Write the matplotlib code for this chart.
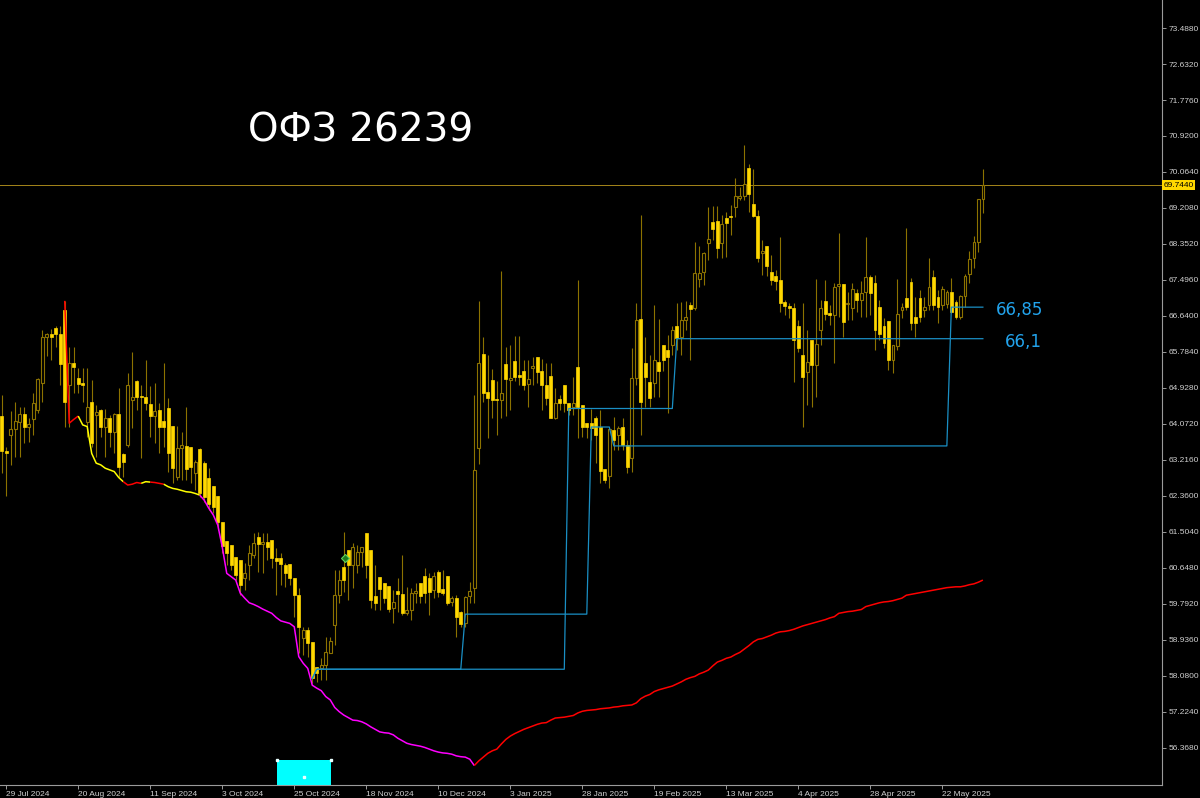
import numpy as np
import matplotlib.pyplot as plt
from matplotlib.patches import Rectangle
from matplotlib import transforms

# daily candles, bar 0 = first (partly hidden) candle on the left
opens = [
    64.25, 63.44, 63.81, 63.95, 64.13, 64.30, 64.01, 64.18, 64.40, 65.04,
    66.15, 66.21, 66.36, 66.20, 66.78, 65.00, 65.52, 65.16, 65.04, 64.13,
    64.60, 64.29, 64.40, 64.01, 64.21, 63.89, 64.30, 63.36, 63.57, 64.64,
    65.10, 64.74, 64.71, 64.55, 64.26, 64.40, 64.15, 64.45, 64.03, 62.80,
    63.49, 63.56, 63.53, 62.90, 63.47, 63.14, 62.79, 62.60, 62.36, 61.75,
    61.30, 61.19, 60.92, 60.84, 60.40, 60.72, 60.96, 61.39, 61.22, 61.27,
    61.31, 60.89, 60.88, 60.72, 60.74, 60.40, 60.00, 58.98, 59.17, 58.89,
    58.30, 58.27, 58.34, 58.63, 59.29, 60.00, 60.68, 61.07, 60.72, 60.72,
    61.03, 61.49, 61.07, 59.98, 60.43, 60.28, 60.22, 59.69, 60.11, 60.03,
    59.57, 59.65, 60.05, 60.28, 60.46, 60.40, 60.12, 60.56, 60.14, 60.46,
    59.85, 59.93, 59.61, 59.33, 59.99, 60.18, 63.49, 65.74, 64.83, 65.12,
    64.67, 64.64, 65.50, 65.12, 65.57, 65.23, 65.32, 65.02, 65.40, 65.66,
    65.32, 65.00, 65.21, 64.21, 64.67, 65.00, 64.56, 64.48, 65.43, 64.52,
    64.10, 64.10, 64.21, 63.99, 63.00, 62.83, 63.93, 63.81, 64.01, 63.57,
    63.26, 65.16, 66.58, 65.52, 65.08, 65.04, 65.55, 65.95, 65.83, 65.95,
    66.40, 66.15, 66.54, 66.90, 66.82, 67.51, 67.69, 68.38, 68.88, 68.91,
    68.37, 68.96, 69.02, 69.24, 69.45, 69.49, 70.17, 69.30, 69.02, 68.13,
    68.30, 67.69, 67.60, 67.50, 66.97, 66.88, 66.82, 66.39, 65.71, 65.30,
    66.07, 65.47, 66.31, 67.00, 66.72, 66.66, 67.35, 67.40, 66.92, 66.82,
    67.19, 67.02, 67.20, 67.57, 67.43, 66.85, 66.40, 66.53, 65.59, 65.93,
    66.78, 67.06, 67.46, 66.61, 67.06, 66.78, 66.90, 67.57, 67.10, 66.90,
    66.92, 67.22, 66.98, 66.61, 67.12, 67.64, 68.01, 68.41, 69.41,
]
highs = [
    64.76, 63.53, 64.38, 64.60, 64.48, 64.48, 64.21, 64.80, 65.16, 66.31,
    66.23, 66.32, 66.39, 66.39, 67.00, 65.91, 65.91, 65.40, 65.40, 65.41,
    65.12, 64.52, 64.44, 64.44, 64.29, 64.33, 64.92, 63.37, 65.28, 65.79,
    65.12, 65.00, 65.59, 64.98, 65.04, 64.56, 65.52, 64.69, 64.03, 64.03,
    63.89, 64.48, 63.53, 63.22, 63.49, 63.19, 63.03, 62.60, 62.36, 61.75,
    61.30, 61.19, 60.92, 60.84, 60.77, 61.19, 61.47, 61.51, 61.47, 61.47,
    61.31, 61.12, 61.00, 60.76, 60.74, 60.40, 60.16, 59.25, 59.25, 58.89,
    58.30, 58.51, 59.01, 59.01, 60.60, 60.60, 61.51, 61.07, 61.23, 61.19,
    61.15, 61.49, 61.07, 60.72, 60.43, 60.28, 60.22, 60.12, 60.40, 60.96,
    60.20, 60.16, 60.28, 60.28, 60.64, 60.52, 60.56, 60.60, 60.60, 60.46,
    59.98, 60.00, 59.63, 59.98, 60.32, 64.76, 67.00, 66.15, 65.71, 65.38,
    65.10, 67.71, 65.91, 65.95, 66.16, 66.16, 65.59, 65.59, 65.67, 65.66,
    65.61, 65.52, 65.53, 64.92, 64.76, 65.00, 64.56, 65.18, 67.50, 64.52,
    64.10, 64.44, 64.25, 64.40, 63.00, 63.98, 64.23, 64.02, 64.21, 63.69,
    65.87, 66.94, 69.04, 66.13, 65.71, 66.90, 66.56, 65.95, 66.19, 66.40,
    66.94, 66.98, 67.00, 66.98, 68.41, 68.30, 68.17, 69.24, 69.26, 69.26,
    69.04, 69.12, 69.28, 69.91, 69.71, 70.71, 70.25, 70.13, 69.16, 68.45,
    68.30, 68.09, 67.73, 68.51, 67.02, 66.95, 66.94, 66.54, 66.94, 66.31,
    66.07, 67.51, 67.02, 67.50, 66.90, 67.42, 68.61, 67.40, 67.21, 67.42,
    67.28, 67.48, 68.51, 67.61, 67.61, 67.02, 66.59, 66.53, 65.95, 67.51,
    66.95, 68.73, 67.54, 67.10, 67.26, 67.10, 68.01, 67.73, 67.26, 67.35,
    67.26, 67.54, 67.02, 67.14, 67.65, 68.19, 68.54, 69.41, 70.13,
]
lows = [
    62.91, 62.36, 63.09, 63.29, 63.29, 63.61, 63.65, 63.81, 64.33, 64.60,
    65.69, 65.59, 65.91, 65.00, 64.01, 64.01, 64.80, 64.80, 64.60, 63.77,
    63.53, 63.29, 63.77, 63.29, 63.53, 63.37, 62.82, 62.82, 63.53, 63.97,
    64.40, 63.26, 64.40, 63.77, 63.61, 63.37, 63.53, 62.94, 62.66, 62.74,
    62.74, 62.74, 62.66, 62.50, 62.34, 62.22, 62.03, 61.95, 61.55, 61.00,
    60.72, 60.60, 60.36, 60.00, 60.12, 60.36, 60.88, 60.56, 60.52, 60.84,
    60.64, 60.00, 60.24, 60.20, 60.24, 59.49, 58.62, 58.58, 58.54, 57.91,
    57.94, 57.98, 57.98, 58.62, 58.82, 59.81, 60.08, 59.89, 60.16, 60.52,
    60.68, 60.40, 59.69, 59.65, 59.65, 59.81, 59.61, 59.33, 59.61, 59.53,
    59.53, 59.41, 59.81, 59.81, 59.81, 59.53, 59.93, 59.96, 60.00, 59.77,
    59.74, 59.01, 59.25, 59.25, 59.81, 59.81, 63.11, 64.60, 63.73, 64.21,
    63.81, 64.21, 64.25, 64.40, 65.09, 65.00, 64.88, 64.48, 65.00, 65.04,
    64.40, 64.52, 64.21, 64.18, 64.40, 64.36, 64.29, 64.29, 63.73, 63.77,
    63.73, 63.69, 63.14, 62.66, 62.66, 62.56, 63.45, 63.45, 63.45, 62.90,
    62.94, 65.00, 63.81, 64.48, 64.48, 64.72, 64.72, 65.32, 64.33, 65.71,
    65.83, 65.71, 66.31, 65.59, 66.78, 67.34, 67.38, 67.97, 68.45, 68.01,
    68.01, 68.05, 68.57, 69.00, 69.40, 69.40, 69.12, 69.00, 67.92, 67.61,
    67.59, 67.38, 67.26, 66.74, 66.66, 66.59, 65.08, 65.78, 64.01, 64.52,
    64.48, 64.72, 65.95, 66.54, 66.43, 65.52, 66.62, 66.15, 66.54, 66.54,
    66.73, 66.62, 66.62, 66.66, 65.83, 66.07, 65.88, 65.36, 65.29, 65.83,
    66.59, 66.78, 66.31, 66.15, 66.50, 66.62, 66.78, 66.78, 66.48, 66.78,
    66.82, 66.70, 66.56, 66.58, 66.86, 67.42, 67.77, 68.17, 69.10,
]
closes = [
    63.44, 63.37, 63.95, 64.14, 64.30, 64.00, 64.06, 64.58, 65.14, 66.15,
    66.20, 66.15, 66.20, 65.50, 64.59, 65.52, 65.42, 65.02, 64.99, 64.48,
    63.63, 64.36, 64.01, 64.21, 63.89, 64.30, 63.06, 63.16, 65.00, 64.72,
    64.72, 64.71, 64.56, 64.26, 64.38, 64.00, 64.00, 63.37, 63.02, 63.49,
    63.58, 63.00, 63.04, 63.17, 62.42, 62.33, 62.17, 62.10, 61.74, 61.17,
    61.01, 60.72, 60.48, 60.24, 60.52, 61.00, 61.23, 61.22, 61.27, 61.15,
    60.88, 60.82, 60.74, 60.54, 60.40, 60.00, 59.25, 59.17, 58.86, 58.02,
    58.14, 58.34, 58.66, 58.91, 60.00, 60.36, 60.36, 60.72, 61.15, 61.03,
    61.15, 60.72, 59.89, 59.82, 60.14, 59.93, 59.67, 59.85, 60.03, 59.57,
    59.65, 60.05, 60.11, 59.98, 60.05, 60.08, 60.46, 60.08, 60.05, 59.81,
    59.93, 59.49, 59.32, 59.95, 60.11, 62.98, 65.53, 64.82, 64.70, 64.64,
    64.64, 64.80, 65.13, 65.16, 65.20, 65.20, 65.00, 65.13, 65.45, 65.30,
    65.00, 64.70, 64.21, 64.58, 64.58, 64.56, 64.40, 64.56, 64.47, 64.01,
    63.99, 63.98, 63.81, 62.96, 62.74, 63.95, 63.69, 63.97, 63.57, 63.04,
    65.16, 66.54, 64.60, 65.20, 64.68, 65.59, 65.32, 65.59, 65.67, 66.31,
    66.11, 66.54, 66.61, 66.80, 67.67, 67.66, 68.14, 68.47, 68.70, 68.25,
    68.83, 68.84, 68.99, 69.49, 69.49, 69.77, 69.53, 69.02, 68.01, 68.19,
    67.83, 67.50, 67.48, 66.96, 66.88, 66.82, 66.07, 65.87, 65.20, 65.55,
    65.47, 65.97, 66.82, 66.69, 66.66, 67.34, 67.40, 66.50, 66.96, 67.27,
    67.02, 67.18, 67.57, 67.19, 66.31, 66.21, 65.99, 65.59, 65.95, 66.69,
    66.85, 66.86, 66.48, 66.48, 66.62, 66.86, 67.34, 66.90, 66.86, 67.28,
    67.22, 66.74, 66.61, 67.11, 67.59, 67.99, 68.41, 69.41, 69.744,
]

# trailing indicator, bars 14..218
trail_start = 14
trail = [
    67.00, 64.09, 64.18, 64.26, 64.05, 64.01, 63.37, 63.14, 63.10, 63.02,
    62.98, 62.94, 62.80, 62.70, 62.62, 62.64, 62.68, 62.66, 62.70, 62.69,
    62.68, 62.66, 62.64, 62.58, 62.54, 62.52, 62.49, 62.46, 62.45, 62.42,
    62.38, 62.26, 62.07, 61.91, 61.67, 61.15, 60.52, 60.44, 60.36, 60.05,
    59.93, 59.82, 59.78, 59.73, 59.67, 59.62, 59.57, 59.47, 59.39, 59.36,
    59.33, 59.25, 58.54, 58.38, 58.26, 57.86, 57.79, 57.73, 57.59, 57.51,
    57.33, 57.23, 57.15, 57.09, 57.03, 57.02, 56.99, 56.94, 56.87, 56.81,
    56.75, 56.73, 56.72, 56.68, 56.60, 56.54, 56.48, 56.45, 56.43, 56.41,
    56.38, 56.34, 56.30, 56.27, 56.25, 56.24, 56.22, 56.18, 56.16, 56.15,
    56.10, 55.95, 56.06, 56.15, 56.24, 56.30, 56.34, 56.46, 56.57, 56.65,
    56.71, 56.76, 56.81, 56.85, 56.89, 56.93, 56.96, 56.97, 57.03, 57.08,
    57.09, 57.10, 57.12, 57.14, 57.20, 57.24, 57.26, 57.27, 57.28, 57.30,
    57.31, 57.32, 57.34, 57.35, 57.37, 57.38, 57.39, 57.44, 57.54, 57.60,
    57.64, 57.71, 57.75, 57.78, 57.81, 57.84, 57.89, 57.94, 58.00, 58.04,
    58.07, 58.13, 58.17, 58.22, 58.32, 58.41, 58.45, 58.50, 58.53, 58.59,
    58.64, 58.72, 58.80, 58.89, 58.95, 58.97, 59.01, 59.05, 59.10, 59.13,
    59.14, 59.16, 59.19, 59.23, 59.27, 59.30, 59.33, 59.36, 59.39, 59.42,
    59.46, 59.49, 59.57, 59.59, 59.61, 59.62, 59.64, 59.66, 59.73, 59.76,
    59.79, 59.82, 59.84, 59.85, 59.87, 59.90, 59.93, 60.00, 60.02, 60.04,
    60.06, 60.08, 60.10, 60.12, 60.14, 60.16, 60.18, 60.19, 60.20, 60.20,
    60.22, 60.25, 60.27, 60.31, 60.36,
]
trail_breaks = [14, 17, 27, 31, 33, 36, 44, 105, 218]
trail_colors = ["#ff0000", "#ffff00", "#ff0000", "#ffff00", "#ff0000",
                "#ffff00", "#ff00ff", "#ff0000"]

# two stepped stop levels
stop_a_bars = [69, 70, 125, 126, 149, 150, 218]
stop_a_vals = [58.02, 58.24, 58.24, 64.44, 64.44, 66.10, 66.10]
stop_b_bars = [69, 70, 102, 103, 130, 131, 135, 136, 210, 211, 218]
stop_b_vals = [58.02, 58.24, 58.24, 59.55, 59.55, 64.00, 64.00, 63.55,
               63.55, 66.85, 66.85]
level_labels = ["66,85", "66,1"]
level_values = [66.85, 66.10]

# objects on the chart
rect_bars = [61.1, 73.2]
rect_prices = [55.29, 56.08]
arrow_bar, arrow_price = 76.2, 60.88

price_ticks = [73.488 - 0.856 * k for k in range(21)]
date_bars = [1 + 16 * k for k in range(14)]
date_labels = ["29 Jul 2024", "20 Aug 2024", "11 Sep 2024", "3 Oct 2024",
               "25 Oct 2024", "18 Nov 2024", "10 Dec 2024", "3 Jan 2025",
               "28 Jan 2025", "19 Feb 2025", "13 Mar 2025", "4 Apr 2025",
               "28 Apr 2025", "22 May 2025"]

BG = "#000000"
DIM = "#8c7200"
BRIGHT = "#ffd700"
CYAN = "#1a8fc4"
AXIS = "#9a9a9a"
TXT = "#cfcfcf"

fig = plt.figure(figsize=(12, 7.98), dpi=100, facecolor=BG)
ax = fig.add_axes([0, 13 / 798, 1162 / 1200, 785 / 798], facecolor=BG)

o, h, l, c = map(np.array, (opens, highs, lows, closes))
x = np.arange(len(o))
up = c >= o

ax.vlines(x, l, h, color=DIM, lw=0.8, zorder=2)
ax.bar(x[up], c[up] - o[up], bottom=o[up], width=0.6, facecolor=BG,
       edgecolor=DIM, lw=0.8, zorder=3)
ax.bar(x[~up], o[~up] - c[~up], bottom=c[~up], width=0.6, facecolor=BRIGHT,
       edgecolor=BRIGHT, lw=0.5, zorder=3)

tr = np.array(trail)
for b0, b1, col in zip(trail_breaks[:-1], trail_breaks[1:], trail_colors):
    xs = np.arange(b0, b1 + 1)
    ax.plot(xs, tr[b0 - trail_start:b1 - trail_start + 1], color=col,
            lw=1.1, zorder=4, solid_capstyle="butt")

ax.plot(stop_a_bars, stop_a_vals, color=CYAN, lw=0.9, zorder=4)
ax.plot(stop_b_bars, stop_b_vals, color=CYAN, lw=0.9, zorder=4)
for lab, v in zip(level_labels, level_values):
    dx = 3.0 if len(lab) > 4 else 4.8
    ax.text(stop_b_bars[-1] + dx, v - 0.07, lab, color="#22a3ec",
            fontsize=12, va="center", ha="left", family=["DejaVu Sans"])

# current price
last = closes[-1]
ax.axhline(last, color="#a5861a", lw=0.7, zorder=1)
blend = transforms.blended_transform_factory(ax.transAxes, ax.transData)
ax.text(1.0015, last, f"{last:.4f}", transform=blend, ha="left",
        va="center", fontsize=6, color="black", family="Liberation Sans",
        bbox=dict(boxstyle="square,pad=0.18", fc=BRIGHT, ec="none"),
        zorder=10, clip_on=False)

# rectangle object + arrow
ax.add_patch(Rectangle((rect_bars[0], rect_prices[0]),
                       rect_bars[1] - rect_bars[0],
                       rect_prices[1] - rect_prices[0],
                       fc="#00ffff", ec="none", zorder=5))
ax.plot([rect_bars[0], rect_bars[1], sum(rect_bars) / 2],
        [rect_prices[1], rect_prices[1], sum(rect_prices) / 2],
        ls="none", marker="s", ms=1.8, color="#e8ffff", zorder=6)
ax.plot(arrow_bar, arrow_price, marker="D", ms=4, mfc="#1d7a1d",
        mec="#5fd35f", mew=0.8, zorder=6)

ax.set_xlim(-0.378, 257.8)
ax.set_ylim(55.487, 74.154)

ax.yaxis.tick_right()
ax.set_yticks(price_ticks)
ax.set_yticklabels([f"{v:.4f}" for v in price_ticks])
ax.set_xticks(date_bars)
ax.set_xticklabels(date_labels)
for t in ax.get_xticklabels():
    t.set_ha("left")
    t.set_transform(t.get_transform() +
                    transforms.ScaledTranslation(2 / 100, 0, fig.dpi_scale_trans))
ax.tick_params(axis="both", colors=AXIS, labelcolor=TXT, labelsize=6,
               length=3, width=0.7, direction="out")
ax.tick_params(axis="y", pad=1.5)
ax.tick_params(axis="x", pad=1)
for t in ax.get_xticklabels() + ax.get_yticklabels():
    t.set_family("Liberation Sans")

for side in ("left", "top"):
    ax.spines[side].set_visible(False)
for side in ("right", "bottom"):
    ax.spines[side].set_color(AXIS)
    ax.spines[side].set_linewidth(0.8)

fig.text(248 / 1200, 1 - 130 / 798, "ОФЗ 26239", color="white", fontsize=28,
         ha="left", va="center", family=["DejaVu Sans"])

fig.savefig("out.png", dpi=100, facecolor=BG)
